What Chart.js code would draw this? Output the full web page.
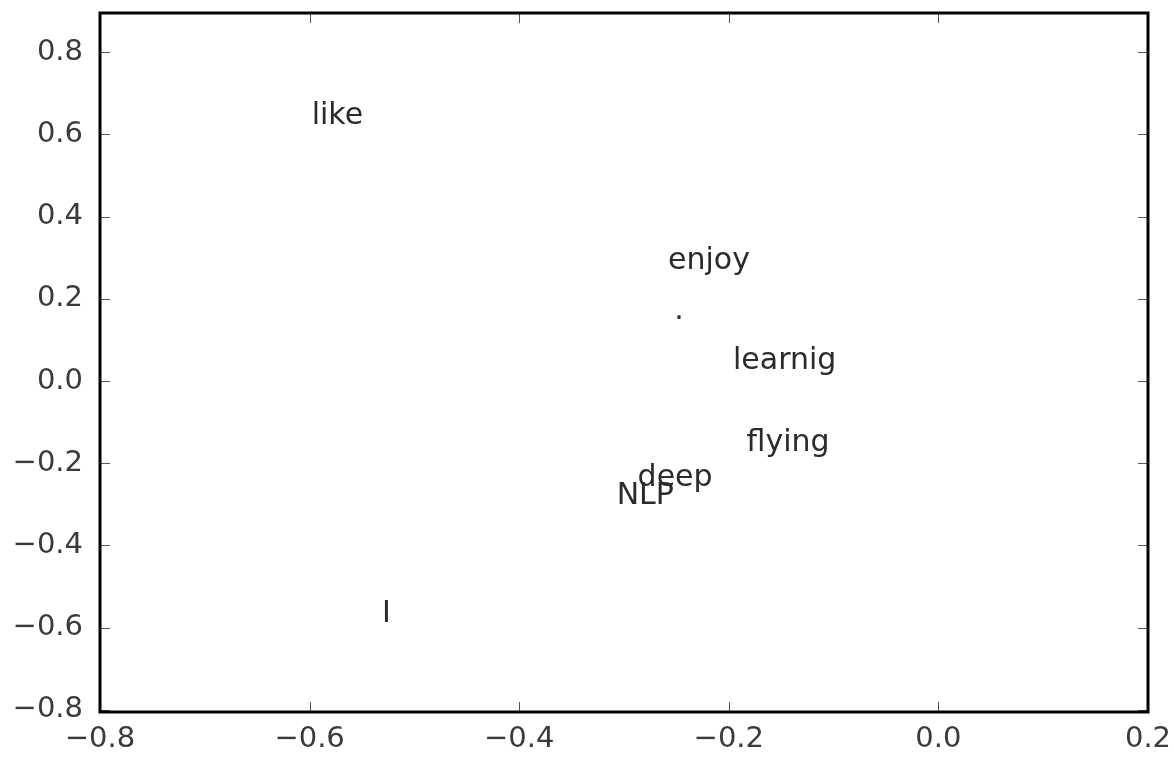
<!DOCTYPE html>
<html lang="en">
<head>
  <meta charset="UTF-8" />
  <title>Word vectors</title>
  <script src="https://cdn.jsdelivr.net/npm/chart.js"></script>
  <style>
    body { margin: 0; background: #fff; }
    canvas { display: block; }
  </style>
</head>
<body>
  <canvas id="words-chart" width="1174" height="761"></canvas>
  <script>
// words and their 2-D coordinates
const words = ['I', 'like', 'enjoy', 'deep', 'learnig', 'NLP', 'flying', '.'];
const xs = [-0.531, -0.598, -0.258, -0.287, -0.196, -0.307, -0.183, -0.252];
const ys = [-0.585, 0.624, 0.273, -0.256, 0.029, -0.300, -0.171, 0.152];

const xTicks = [-0.8, -0.6, -0.4, -0.2, 0.0, 0.2];
const yTicks = [-0.8, -0.6, -0.4, -0.2, 0.0, 0.2, 0.4, 0.6, 0.8];

const fontFamily = '"DejaVu Sans", sans-serif';
const fmt = v => v.toFixed(1).replace('-', '\u2212');

// text annotations, left/baseline anchored at each point
const wordLabels = {
  id: 'wordLabels',
  afterDatasetsDraw(chart) {
    const ctx = chart.ctx;
    const meta = chart.getDatasetMeta(0);
    ctx.save();
    ctx.font = '30px ' + fontFamily;
    ctx.fillStyle = '#2b2b2b';
    ctx.textAlign = 'left';
    ctx.textBaseline = 'alphabetic';
    meta.data.forEach((pt, i) => ctx.fillText(words[i], pt.x, pt.y));
    ctx.restore();
  }
};

// matplotlib-ish frame with inward ticks on all four sides
const frame = {
  id: 'frame',
  afterDraw(chart) {
    const { ctx, chartArea: a, scales } = chart;
    ctx.save();
    ctx.strokeStyle = '#555';
    ctx.lineWidth = 1;
    const len = 10;
    ctx.beginPath();
    scales.x.ticks.forEach(t => {
      const px = Math.round(scales.x.getPixelForValue(t.value)) + 0.5;
      ctx.moveTo(px, a.bottom); ctx.lineTo(px, a.bottom - len);
      ctx.moveTo(px, a.top); ctx.lineTo(px, a.top + len);
    });
    scales.y.ticks.forEach(t => {
      const py = Math.round(scales.y.getPixelForValue(t.value)) + 0.5;
      ctx.moveTo(a.left, py); ctx.lineTo(a.left + len, py);
      ctx.moveTo(a.right, py); ctx.lineTo(a.right - len, py);
    });
    ctx.stroke();
    ctx.strokeStyle = '#000';
    ctx.lineWidth = 3;
    ctx.strokeRect(a.left, a.top, a.right - a.left, a.bottom - a.top);
    ctx.restore();
  }
};

new Chart(document.getElementById('words-chart'), {
  type: 'scatter',
  data: {
    datasets: [{
      data: xs.map((x, i) => ({ x: x, y: ys[i] })),
      pointRadius: 0,
      pointHoverRadius: 0
    }]
  },
  options: {
    responsive: false,
    animation: false,
    layout: { padding: { left: 0, top: 13, right: 26, bottom: 0 } },
    plugins: { legend: { display: false }, tooltip: { enabled: false } },
    scales: {
      x: {
        type: 'linear',
        min: -0.8,
        max: 0.2,
        afterBuildTicks: s => { s.ticks = xTicks.map(v => ({ value: v })); },
        afterFit: s => { s.height = 49; s.paddingLeft = 0; s.paddingRight = 0; },
        grid: { display: false, drawTicks: false },
        border: { display: false },
        ticks: {
          autoSkip: false, maxRotation: 0, padding: 10,
          color: '#3a3a3a', font: { family: fontFamily, size: 29 },
          callback: v => fmt(v)
        }
      },
      y: {
        type: 'linear',
        min: -0.805,
        max: 0.895,
        afterBuildTicks: s => { s.ticks = yTicks.map(v => ({ value: v })); },
        afterFit: s => { s.width = 100; s.paddingTop = 0; s.paddingBottom = 0; },
        grid: { display: false, drawTicks: false },
        border: { display: false },
        ticks: {
          autoSkip: false, padding: 17,
          color: '#3a3a3a', font: { family: fontFamily, size: 29 },
          callback: v => fmt(v)
        }
      }
    }
  },
  plugins: [wordLabels, frame]
});
  </script>
</body>
</html>
